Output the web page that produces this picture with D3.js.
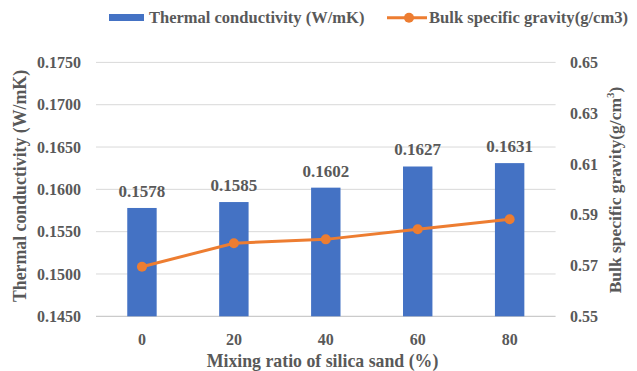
<!DOCTYPE html>
<html><head><meta charset="utf-8">
<script src="https://cdn.jsdelivr.net/npm/d3@7"></script>
<style>body{margin:0;background:#fff;}</style>
</head><body>
<svg id="chart" width="637" height="371"></svg>
<script>
const categories = ["0","20","40","60","80"];
const conductivity = [0.1578,0.1585,0.1602,0.1627,0.1631];
const gravity = [0.5695,0.5788,0.5803,0.5843,0.5882];
const leftTicks = [0.145,0.150,0.155,0.160,0.165,0.170,0.175];
const rightTicks = [0.55,0.57,0.59,0.61,0.63,0.65];

const FONT = "Liberation Serif";
const svg = d3.select("#chart");
const L=96, R=555.6, T=62.4, B=316.3;
const x = d3.scaleBand().domain(categories).range([L,R]).paddingInner(0.68).paddingOuter(0.34);
const yL = d3.scaleLinear().domain([0.145,0.175]).range([B,T]);
const yR = d3.scaleLinear().domain([0.55,0.65]).range([B,T]);

function styleText(sel, size){
  return sel.style("font-family",FONT).style("font-weight","bold").style("fill","#595959").style("font-size",size+"px");
}

svg.append("g").selectAll("line").data(leftTicks.slice(1)).join("line")
  .attr("x1",L).attr("x2",R).attr("y1",d=>yL(d)).attr("y2",d=>yL(d))
  .attr("stroke","#d9d9d9").attr("stroke-width",1);
svg.append("line").attr("x1",L).attr("x2",R).attr("y1",B).attr("y2",B).attr("stroke","#bfbfbf").attr("stroke-width",1);

const axL = svg.append("g").attr("transform",`translate(${L},0)`)
  .call(d3.axisLeft(yL).tickValues(leftTicks).tickFormat(d3.format(".4f")).tickSize(0).tickPadding(15));
axL.select(".domain").remove();
axL.attr("font-family",null);
styleText(axL.selectAll("text"),16);
const axR = svg.append("g").attr("transform",`translate(${R},0)`)
  .call(d3.axisRight(yR).tickValues(rightTicks).tickFormat(d3.format(".2f")).tickSize(0).tickPadding(14.5));
axR.select(".domain").remove();
axR.attr("font-family",null);
styleText(axR.selectAll("text"),16);
const axB = svg.append("g").attr("transform",`translate(0,${B})`)
  .call(d3.axisBottom(x).tickSize(0).tickPadding(17));
axB.select(".domain").remove();
axB.attr("font-family",null);
styleText(axB.selectAll("text"),16);

svg.append("g").selectAll("rect").data(conductivity).join("rect")
  .attr("x",(d,i)=>x(categories[i])).attr("width",x.bandwidth())
  .attr("y",d=>yL(d)).attr("height",d=>B-yL(d)).attr("fill","#4472C4");
styleText(svg.append("g").selectAll("text").data(conductivity).join("text")
  .attr("x",(d,i)=>x(categories[i])+x.bandwidth()/2).attr("y",d=>yL(d)-11)
  .attr("text-anchor","middle").text(d=>d.toFixed(4)),17);

const line = d3.line().x((d,i)=>x(categories[i])+x.bandwidth()/2).y(d=>yR(d));
svg.append("path").datum(gravity).attr("d",line).attr("fill","none").attr("stroke","#ED7D31").attr("stroke-width",3);
svg.append("g").selectAll("circle").data(gravity).join("circle")
  .attr("cx",(d,i)=>x(categories[i])+x.bandwidth()/2).attr("cy",d=>yR(d)).attr("r",5).attr("fill","#ED7D31");

styleText(svg.append("text").attr("transform",`translate(26,186) rotate(-90)`).attr("text-anchor","middle").text("Thermal conductivity (W/mK)"),17.8);
const rt = styleText(svg.append("text").attr("transform",`translate(621,190) rotate(-90)`).attr("text-anchor","middle"),17.5);
rt.append("tspan").text("Bulk specific gravity(g/cm");
rt.append("tspan").attr("dy",-7).style("font-size","11px").text("3");
rt.append("tspan").attr("dy",7).text(")");
styleText(svg.append("text").attr("x",322.5).attr("y",367).attr("text-anchor","middle").text("Mixing ratio of silica sand (%)"),17.8);

svg.append("rect").attr("x",109).attr("y",14).attr("width",35).attr("height",7).attr("fill","#4472C4");
styleText(svg.append("text").attr("x",149).attr("y",23).text("Thermal conductivity (W/mK)"),16.5);
svg.append("line").attr("x1",387).attr("x2",427).attr("y1",17.7).attr("y2",17.7).attr("stroke","#ED7D31").attr("stroke-width",3);
svg.append("circle").attr("cx",409).attr("cy",17.7).attr("r",5).attr("fill","#ED7D31");
styleText(svg.append("text").attr("x",429).attr("y",23).text("Bulk specific gravity(g/cm3)"),16.6);
</script>
</body></html>
